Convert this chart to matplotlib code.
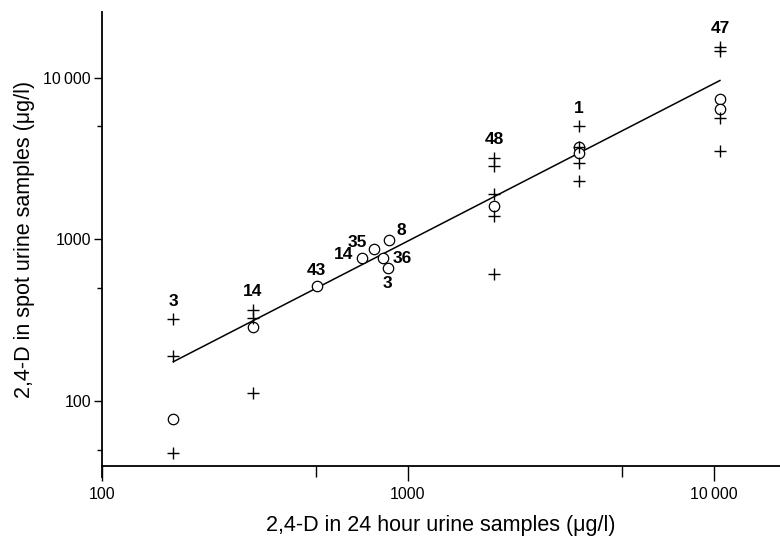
import matplotlib
matplotlib.use('Agg')
import matplotlib.pyplot as plt
from matplotlib.ticker import FixedLocator, NullFormatter
import numpy as np

plt.rcParams['font.family'] = ['Liberation Sans', 'DejaVu Sans']

# columns of repeated spot samples (24 h value, + spot values, o mean, label)
col_x = [171, 311, 1910, 3624, 10462]
col_labels = ['3', '14', '48', '1', '47']
col_plus = [[321, 190, 48],
            [366, 325, 112],
            [3210, 2860, 1900, 1406, 608],
            [5000, 3750, 2970, 2290],
            [15600, 14700, 5640, 3510]]
col_circle = [[78], [289], [1600], [3750, 3400], [7390, 6410]]

# single subjects in the middle cluster
cl_x = [503, 706, 774, 867, 830, 859]
cl_y = [515, 771, 867, 986, 764, 665]
cl_labels = ['43', '14', '35', '8', '36', '3']

# regression line  log y = a + b log x
fit_a = 0.0695
fit_b = 0.9736

x_ticks = [100, 1000, 10000]
x_ticklabels = ['100', '1000', '10\u2009000']
y_ticks = [100, 1000, 10000]
y_ticklabels = ['100', '1000', '10\u2009000']

fig = plt.figure(figsize=(7.8, 5.4), dpi=100)
ax = fig.add_axes([102 / 780, 1 - 466 / 540, 678 / 780, 454 / 540])
ax.set_xscale('log')
ax.set_yscale('log')
ax.set_xlim(100, 16440)
ax.set_ylim(39.7, 25500)

# fitted line
xl = np.array([min(col_x), max(col_x)])
ax.plot(xl, 10 ** (fit_a + fit_b * np.log10(xl)), color='black', lw=1.1, zorder=2)

mk = dict(linestyle='none', color='black')
for x, pl, ci in zip(col_x, col_plus, col_circle):
    ax.plot([x] * len(ci), ci, marker='o', ms=7.5, mfc='white', mec='black',
            mew=0.9, zorder=3, **mk)
    ax.plot([x] * len(pl), pl, marker='+', ms=9, mew=1.0, zorder=4, **mk)

for x, pl, lab in zip(col_x, col_plus, col_labels):
    ax.annotate(lab, (x, max(pl)), xytext=(0, 13), textcoords='offset points',
                ha='center', va='center', fontsize=12.5, fontweight='bold')

ax.plot(cl_x, cl_y, marker='o', ms=7.5, mfc='white', mec='black', mew=0.9,
        zorder=3, **mk)
cl_off = {'43': (0, 11), '14': (-13, 2), '35': (-12, 5), '8': (9, 7),
          '36': (14, 0), '3': (0, -11)}
for x, y, lab in zip(cl_x, cl_y, cl_labels):
    ax.annotate(lab, (x, y), xytext=cl_off[lab], textcoords='offset points',
                ha='center', va='center', fontsize=12.5, fontweight='bold')

for s in ['top', 'right']:
    ax.spines[s].set_visible(False)
for s in ['left', 'bottom']:
    ax.spines[s].set_linewidth(1.3)
ax.spines['left'].set_bounds(34, 25500)

ax.xaxis.set_major_locator(FixedLocator(x_ticks))
ax.xaxis.set_minor_locator(FixedLocator([500, 5000]))
ax.yaxis.set_major_locator(FixedLocator(y_ticks))
ax.yaxis.set_minor_locator(FixedLocator([50, 500, 5000]))
ax.set_xticklabels(x_ticklabels)
ax.set_yticklabels(y_ticklabels)
ax.xaxis.set_minor_formatter(NullFormatter())
ax.yaxis.set_minor_formatter(NullFormatter())
ax.tick_params(axis='x', which='major', length=11, width=1.0, pad=4, labelsize=11.5)
ax.tick_params(axis='x', which='minor', length=8, width=1.0)
ax.tick_params(axis='y', which='major', length=6, width=1.0, pad=2, labelsize=11.5)
ax.tick_params(axis='y', which='minor', length=3.5, width=1.0)

ax.set_xlabel('2,4-D in 24 hour urine samples (\u03bcg/l)', fontsize=15.5)
ax.set_ylabel('2,4-D in spot urine samples (\u03bcg/l)', fontsize=15.5)
ax.xaxis.label.set_va('center')
ax.yaxis.label.set_va('center')
ax.xaxis.set_label_coords(0.5, -0.13)
ax.yaxis.set_label_coords(-0.114, 0.5)

fig.savefig('out.png', dpi=100)
